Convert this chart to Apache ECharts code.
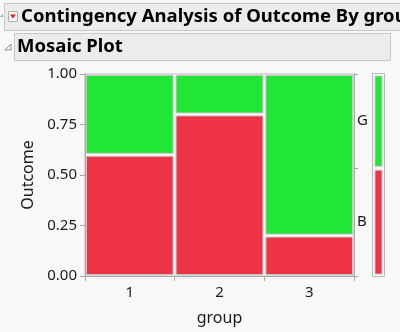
<!DOCTYPE html>
<html><head><meta charset="utf-8">
<script src="https://cdn.jsdelivr.net/npm/echarts@6/dist/echarts.min.js"></script>
<style>html,body{margin:0;padding:0;background:#f8f8f8;}#c{width:400px;height:332px;}</style>
</head><body><div id="c"></div>
<script>
const groups = ['1', '2', '3'];
const groupShares = [0.333, 0.334, 0.333];
const propB = [0.60, 0.80, 0.20];
const outcomes = ['B', 'G'];
const outcomeColors = ['#EF3347', '#22E636'];

const chart = echarts.init(document.getElementById('c'));

// build mosaic cells from data
const cells = [];
let x0 = 0;
groups.forEach((g, i) => {
  const x1 = x0 + groupShares[i];
  cells.push([x0, x1, 0, propB[i], 0]);
  cells.push([x0, x1, propB[i], 1, 1]);
  x0 = x1;
});
const totalShare = groupShares.reduce((a, b) => a + b, 0);
const margB = groupShares.reduce((s, w, i) => s + w * propB[i], 0) / totalShare;
const margCells = [[0, 1, 0, margB, 0], [0, 1, margB, 1, 1]];

function makeRender(ins) {
  return function (params, api) {
    const a = api.coord([api.value(0), api.value(2)]);
    const b = api.coord([api.value(1), api.value(3)]);
    return {
      type: 'rect',
      shape: { x: a[0] + ins, y: b[1] + ins, width: b[0] - a[0] - 2 * ins, height: a[1] - b[1] - 2 * ins },
      style: { fill: outcomeColors[api.value(4)], stroke: '#c4c4c4', lineWidth: 1 }
    };
  };
}

const font = '"Segoe UI", "Noto Sans", "Open Sans", sans-serif';

chart.setOption({
  backgroundColor: '#f8f8f8',
  animation: false,
  graphic: [
    { type: 'rect', shape: { x: 4.5, y: 3.5, width: 400, height: 27 }, style: { fill: '#ececec', stroke: '#c8c8c8', lineWidth: 1 } },
    { type: 'rect', shape: { x: 8.5, y: 11.5, width: 9, height: 10 }, style: { fill: '#f4f4f4', stroke: '#b0b0b0', lineWidth: 1 } },
    { type: 'polygon', shape: { points: [[10, 14.5], [16, 14.5], [13, 18.5]] }, style: { fill: '#e0202a' } },
    { type: 'polygon', shape: { points: [[0, 17], [3, 14], [3, 17]] }, style: { fill: '#a0a0a0' } },
    { type: 'text', x: 21, y: 17, style: { text: 'Contingency Analysis of Outcome By group', font: 'bold 18.5px ' + font, fill: '#000', verticalAlign: 'middle' } },
    { type: 'rect', shape: { x: 14.5, y: 33.5, width: 376, height: 27 }, style: { fill: '#ececec', stroke: '#c8c8c8', lineWidth: 1 } },
    { type: 'polygon', shape: { points: [[5, 50], [11, 44], [11, 50]] }, style: { fill: 'none', stroke: '#909090', lineWidth: 1 } },
    { type: 'text', x: 17, y: 47, style: { text: 'Mosaic Plot', font: 'bold 18.5px ' + font, fill: '#000', verticalAlign: 'middle' } }
  ],
  grid: [
    { left: 85, top: 74, width: 269, height: 202, show: true, borderColor: '#b8b8b8', borderWidth: 1, backgroundColor: '#f8f8f8' },
    { left: 373, top: 74, width: 11, height: 202, show: false }
  ],
  xAxis: [
    {
      type: 'category', data: groups, gridIndex: 0, position: 'bottom',
      axisLine: { lineStyle: { color: '#a8a8a8', width: 1 } },
      axisTick: { show: true, length: 5, lineStyle: { color: '#a8a8a8' } },
      axisLabel: { fontSize: 15, color: '#1a1a1a', margin: 9, fontFamily: font },
      name: 'group', nameLocation: 'middle', nameGap: 34,
      nameTextStyle: { fontSize: 16, color: '#1a1a1a', fontFamily: font }
    },
    { type: 'value', gridIndex: 0, min: 0, max: 1, show: false },
    { type: 'value', gridIndex: 1, min: 0, max: 1, show: false }
  ],
  yAxis: [
    {
      type: 'value', gridIndex: 0, min: 0, max: 1, interval: 0.25,
      axisLine: { show: true, lineStyle: { color: '#a8a8a8' } },
      axisTick: { show: true, length: 5, lineStyle: { color: '#a8a8a8' } },
      splitLine: { show: false },
      axisLabel: { fontSize: 15, color: '#1a1a1a', margin: 8, fontFamily: font, formatter: v => v.toFixed(2) },
      name: 'Outcome', nameLocation: 'middle', nameGap: 48, nameRotate: 90,
      nameTextStyle: { fontSize: 16, color: '#1a1a1a', fontFamily: font }
    },
    {
      type: 'value', gridIndex: 0, min: 0, max: 1, position: 'right',
      axisLine: { show: true, lineStyle: { color: '#a8a8a8' } },
      axisTick: { show: true, length: 4, lineStyle: { color: '#a8a8a8' }, customValues: [0, margB, 1] },
      splitLine: { show: false },
      axisLabel: {
        fontSize: 15, color: '#1a1a1a', margin: 3, fontFamily: font,
        customValues: [margB / 2, (1 + margB) / 2],
        formatter: v => (v < margB ? outcomes[0] : outcomes[1])
      }
    },
    { type: 'value', gridIndex: 1, min: 0, max: 1, show: false }
  ],
  series: [
    { type: 'custom', xAxisIndex: 1, yAxisIndex: 0, renderItem: makeRender(1.5), data: cells, silent: true },
    { type: 'custom', xAxisIndex: 2, yAxisIndex: 2, renderItem: makeRender(2), data: margCells, silent: true, z: 3 },
    {
      type: 'custom', xAxisIndex: 2, yAxisIndex: 2, silent: true, data: [[0, 1, 0, 1]], z: 2,
      renderItem: function (params, api) {
        const a = api.coord([api.value(0), api.value(2)]);
        const b = api.coord([api.value(1), api.value(3)]);
        return {
          type: 'rect',
          shape: { x: a[0] - 0.5, y: b[1] - 0.5, width: b[0] - a[0] + 1, height: a[1] - b[1] + 1 },
          style: { fill: '#f8f8f8', stroke: '#b8b8b8', lineWidth: 1 }
        };
      }
    }
  ]
});
</script></body></html>
